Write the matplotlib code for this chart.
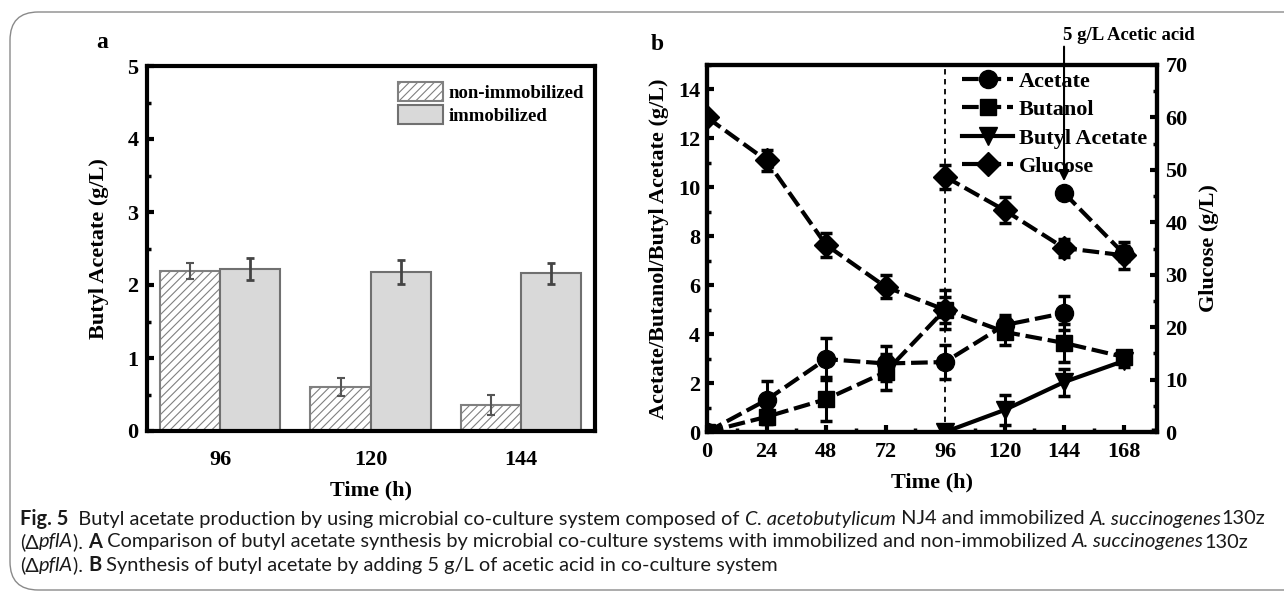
import matplotlib
matplotlib.use("Agg")
import matplotlib.pyplot as plt
from matplotlib import font_manager
from matplotlib.patches import FancyBboxPatch
from matplotlib.lines import Line2D
from matplotlib.ticker import MultipleLocator
import numpy as np

# panel a: butyl acetate, immobilized vs non-immobilized
bar_times = ['96', '120', '144']
non_imm = [2.19, 0.60, 0.36]
non_imm_err = [0.11, 0.12, 0.14]
imm = [2.22, 2.18, 2.16]
imm_err = [0.15, 0.16, 0.14]

# panel b: time courses (left axis g/L, glucose on right axis)
acetate_t = [0, 24, 48, 72, 96, 120, 144]
acetate = [0, 1.31, 2.98, 2.8, 2.86, 4.37, 4.86]
acetate_err = [0, 0.77, 0.86, 0.7, 0.7, 0.4, 0.68]
acetate2_t = [144, 168]
acetate2 = [9.77, 7.3]
acetate2_err = [0, 0.3]

butanol_t = [0, 24, 48, 72, 96, 120, 144, 168]
butanol = [0, 0.62, 1.34, 2.45, 5.0, 4.09, 3.64, 3.07]
butanol_err = [0, 0.3, 0.9, 0.73, 0.8, 0.55, 0.78, 0.25]

ba_t = [96, 120, 144, 168]
butyl_acetate = [0, 0.9, 2.04, 2.9]
butyl_acetate_err = [0, 0.6, 0.55, 0.25]

glucose_t = [0, 24, 48, 72, 96]
glucose = [60, 51.8, 35.7, 27.7, 23.3]
glucose_err = [0.5, 2.0, 2.3, 2.2, 2.5]
glucose2_t = [96, 120, 144, 168]
glucose2 = [48.7, 42.3, 35.1, 33.7]
glucose2_err = [2.3, 2.5, 1.7, 2.6]

series_names = ['Acetate', 'Butanol', 'Butyl Acetate', 'Glucose']

W, H = 1284, 594
serif = 'Liberation Serif'
plt.rcParams['font.family'] = [serif, 'DejaVu Serif']
plt.rcParams['font.weight'] = 'bold'
plt.rcParams['hatch.color'] = '#8c8c8c'
plt.rcParams['hatch.linewidth'] = 0.8

fig = plt.figure(figsize=(W / 100, H / 100), dpi=100)


def px_axes(x0, x1, y0, y1):
    # pixel box (top-left origin) -> figure fraction axes
    return fig.add_axes([x0 / W, (H - y1) / H, (x1 - x0) / W, (y1 - y0) / H])


def style_spines(ax):
    for s in ax.spines.values():
        s.set_linewidth(3)


# ---------------- panel a ----------------
ax1 = px_axes(147, 595, 66, 431)
x = np.arange(len(bar_times))
w = 0.4
ax1.bar(x - w / 2, non_imm, w, color='white', edgecolor='#808080', hatch='////',
        linewidth=1.5, label='non-immobilized')
ax1.bar(x + w / 2, imm, w, color='#d9d9d9', edgecolor='#707070',
        linewidth=1.5, label='immobilized')
ax1.errorbar(x - w / 2, non_imm, yerr=non_imm_err, fmt='none', ecolor='#555555',
             elinewidth=1.5, capsize=3, capthick=1.5)
ax1.errorbar(x + w / 2, imm, yerr=imm_err, fmt='none', ecolor='#444444',
             elinewidth=2, capsize=3, capthick=2)
ax1.set_xlim(-0.485, 2.49)
ax1.set_ylim(0, 5)
ax1.set_xticks(x)
ax1.set_xticklabels(bar_times)
ax1.yaxis.set_major_locator(MultipleLocator(1))
ax1.yaxis.set_minor_locator(MultipleLocator(0.5))
ax1.tick_params(axis='x', length=0, pad=14, labelsize=16)
ax1.tick_params(axis='y', which='major', direction='in', length=5, width=3,
                pad=6, labelsize=16)
ax1.tick_params(axis='y', which='minor', direction='in', length=3, width=2.5)
ax1.set_xlabel('Time (h)', fontsize=16, fontweight='bold', labelpad=7)
ax1.set_ylabel('Butyl Acetate (g/L)', fontsize=16, fontweight='bold', labelpad=13)
style_spines(ax1)
ax1.legend(loc='upper left', bbox_to_anchor=(0.56, 0.956), frameon=False,
           fontsize=13.5, handlelength=2.4, handleheight=1.14, labelspacing=0.2,
           handletextpad=0.3, borderpad=0, borderaxespad=0)

# ---------------- panel b ----------------
ax = px_axes(707, 1157, 65, 432)
ax2 = ax.twinx()
lw = 3
dash = (4, 1.4)
eb = dict(elinewidth=2.2, capsize=4, capthick=2.5, ecolor='black')

ax.errorbar(acetate_t, acetate, yerr=acetate_err, color='black', lw=lw,
            marker='o', ms=13, dashes=dash, **eb)
ax.errorbar(acetate2_t, acetate2, yerr=acetate2_err, color='black', lw=lw,
            marker='o', ms=13, dashes=dash, **eb)
ax.errorbar(butanol_t, butanol, yerr=butanol_err, color='black', lw=lw,
            marker='s', ms=11.5, dashes=dash, **eb)
ax.errorbar(ba_t, butyl_acetate, yerr=butyl_acetate_err, color='black',
            lw=lw, marker='v', ms=13, **eb)
ax2.errorbar(glucose_t, glucose, yerr=glucose_err, color='black', lw=lw,
             marker='D', ms=12, dashes=dash, **eb)
ax2.errorbar(glucose2_t, glucose2, yerr=glucose2_err, color='black', lw=lw,
             marker='D', ms=12, dashes=dash, **eb)

ax.axvline(96, color='black', lw=1.3, ls=(0, (3, 2.5)), zorder=1)

ax.set_xlim(0, 181.5)
ax.set_ylim(0, 15)
ax2.set_ylim(0, 70)
ax.set_xticks(np.arange(0, 169, 24))
ax.xaxis.set_minor_locator(MultipleLocator(12))
ax.yaxis.set_major_locator(MultipleLocator(2))
ax.yaxis.set_minor_locator(MultipleLocator(1))
ax2.yaxis.set_major_locator(MultipleLocator(10))
ax2.yaxis.set_minor_locator(MultipleLocator(5))
ax.tick_params(which='major', direction='in', length=5, width=3, labelsize=16)
ax.tick_params(which='minor', direction='in', length=3, width=2.5)
ax.tick_params(axis='x', pad=7)
ax.tick_params(axis='y', pad=5)
ax2.tick_params(which='major', direction='in', length=5, width=3, labelsize=16, pad=6)
ax2.tick_params(which='minor', direction='in', length=3, width=2.5)
ax.set_xlabel('Time (h)', fontsize=16, fontweight='bold', labelpad=8)
ax.set_ylabel('Acetate/Butanol/Butyl Acetate (g/L)', fontsize=16,
              fontweight='bold', labelpad=6)
ax2.set_ylabel('Glucose (g/L)', fontsize=16, fontweight='bold', labelpad=8)
style_spines(ax)
style_spines(ax2)

handles = [
    Line2D([], [], color='black', lw=lw, dashes=dash, marker='o', ms=13),
    Line2D([], [], color='black', lw=lw, dashes=dash, marker='s', ms=11.5),
    Line2D([], [], color='black', lw=lw, marker='v', ms=13),
    Line2D([], [], color='black', lw=lw, dashes=dash, marker='D', ms=12),
]
ax2.legend(handles, series_names, loc='upper left',
           bbox_to_anchor=((962 - 707) / 450, (432 - 71) / 367),
           frameon=False, fontsize=16, handlelength=2.3, labelspacing=0.36,
           handletextpad=0.27, borderpad=0, borderaxespad=0)

ax.annotate('', xy=(144, 10.25), xytext=(144, 15.75), annotation_clip=False,
            arrowprops=dict(arrowstyle='-|>', lw=1.5, color='black',
                            mutation_scale=16, shrinkA=0, shrinkB=0))
ax.text(143.6, 16.2, '5 g/L Acetic acid', fontsize=13.5, fontweight='bold',
        ha='left', va='center', clip_on=False)

# panel letters
fig.text(102 / W, 1 - 43 / H, 'a', fontsize=17, fontweight='bold', ha='center', va='center')
fig.text(657 / W, 1 - 45 / H, 'b', fontsize=17, fontweight='bold', ha='center', va='center')

# rounded frame around the figure
frame = FancyBboxPatch((10 / W, 4 / H), 1.2, (H - 12 - 4) / H,
                       boxstyle='round,pad=0,rounding_size=0.022',
                       transform=fig.transFigure, fill=False,
                       edgecolor='#8a8a8a', lw=1, mutation_aspect=W / H)
fig.patches.append(frame)

# caption with mixed styles
names = {f.name for f in font_manager.fontManager.ttflist}
cap_font = 'Lato' if 'Lato' in names else 'DejaVu Sans'

cap_lines = [
    [('Fig. 5', 'b'), ('  Butyl acetate production by using microbial co-culture system composed of ', 'n'),
     ('C. acetobutylicum', 'i'), (' NJ4 and immobilized ', 'n'), ('A. succinogenes', 'i'), ('130z', 'n')],
    [('(\u0394', 'n'), ('pflA', 'i'), ('). ', 'n'), ('A', 'b'),
     (' Comparison of butyl acetate synthesis by microbial co-culture systems with immobilized and non-immobilized ', 'n'),
     ('A. succinogenes', 'i'), ('130z', 'n')],
    [('(\u0394', 'n'), ('pflA', 'i'), ('). ', 'n'), ('B', 'b'),
     (' Synthesis of butyl acetate by adding 5 g/L of acetic acid in co-culture system', 'n')],
]
cap_y = [519, 542, 565]

renderer = fig.canvas.get_renderer()


def draw_line(parts, x0, y, size, draw=True):
    xp = x0
    for txt, st in parts:
        t = fig.text(xp / W, 1 - y / H, txt, fontsize=size, family=[cap_font, 'DejaVu Sans'],
                     fontweight='bold' if st == 'b' else 'normal',
                     fontstyle='italic' if st == 'i' else 'normal',
                     ha='left', va='center', color='#1a1a1a')
        xp += t.get_window_extent(renderer).width
        if not draw:
            t.remove()
    return xp - x0


# fit the first line to the reference width
test_w = draw_line(cap_lines[0], 20, cap_y[0], 10, draw=False)
cap_size = 10 * (1242 / test_w)
for parts, y in zip(cap_lines, cap_y):
    draw_line(parts, 20, y, cap_size)

fig.savefig('out.png', dpi=100)
